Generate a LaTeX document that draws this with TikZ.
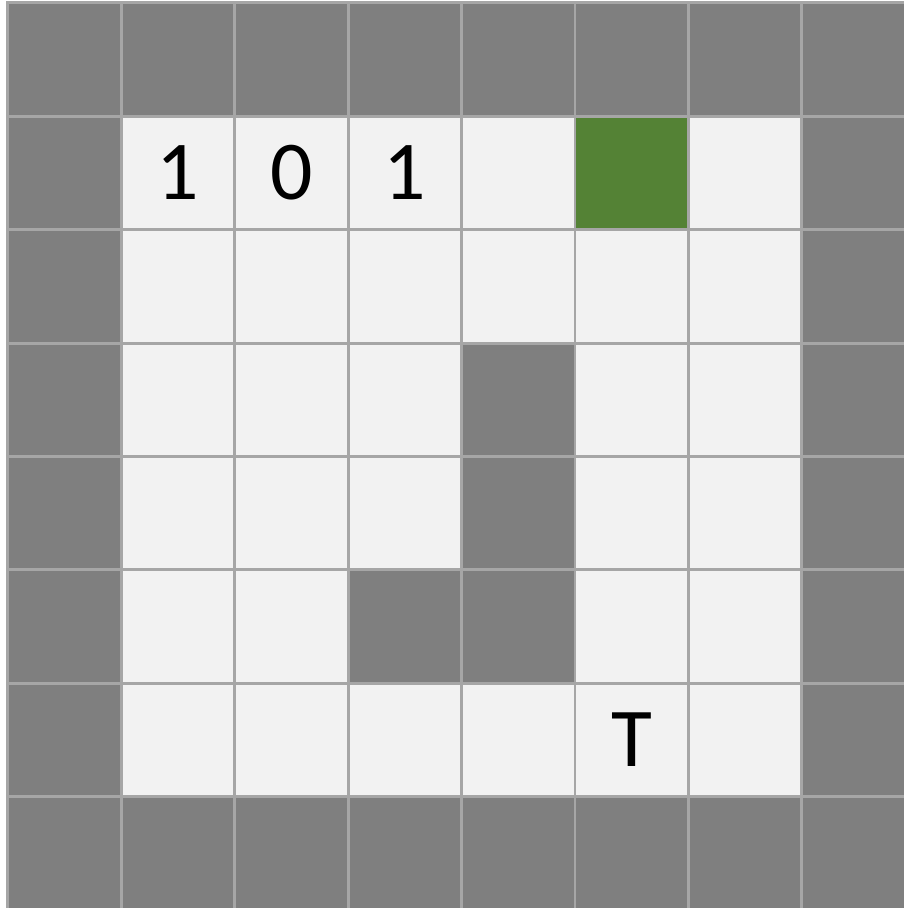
\documentclass[tikz,border=0pt]{standalone}
\usepackage{fontspec}
\setmainfont{Carlito}
\usepackage{xcolor}
\usepackage{tikz}
\usetikzlibrary{positioning}
\definecolor{wallgray}{HTML}{7F7F7F}
\definecolor{floorgray}{HTML}{F2F2F2}
\definecolor{linegray}{HTML}{A6A6A6}
\definecolor{goalgreen}{HTML}{548235}
\tikzset{
    wall/.style={fill=wallgray, draw=linegray, line width=0.75pt},
    free/.style={fill=floorgray, draw=linegray, line width=0.75pt},
    goal/.style={fill=goalgreen, draw=linegray, line width=0.75pt},
    celltext/.style={font=\fontsize{21}{24}\selectfont, inner sep=0pt}
}

\begin{document}
\begin{tikzpicture}[x=1cm, y=-1cm]
    \useasboundingbox (-0.0705,-0.026) rectangle (7.901,7.981);
    % Zellen
    \foreach \r in {0,...,7}
        \foreach \c in {0,...,7}
            \draw[wall] (\c,\r) rectangle ++(1,1);
    \foreach \r in {1,...,6}
        \foreach \c in {1,...,6}
            \draw[free] (\c,\r) rectangle ++(1,1);
    % Hindernisse
    \foreach \c/\r in {4/3, 4/4, 3/5, 4/5}
        \draw[wall] (\c,\r) rectangle ++(1,1);
    % Ziel
    \draw[goal] (5,1) rectangle ++(1,1);

    % Beschriftung
    \node[celltext] (b1) at (1.5,1.5) {1};
    \node[celltext] (b2) at (2.5,1.5) {0};
    \node[celltext] (b3) at (3.5,1.5) {1};
    \node[celltext] (t) at (5.5,6.5) {T};
\end{tikzpicture}
\end{document}
